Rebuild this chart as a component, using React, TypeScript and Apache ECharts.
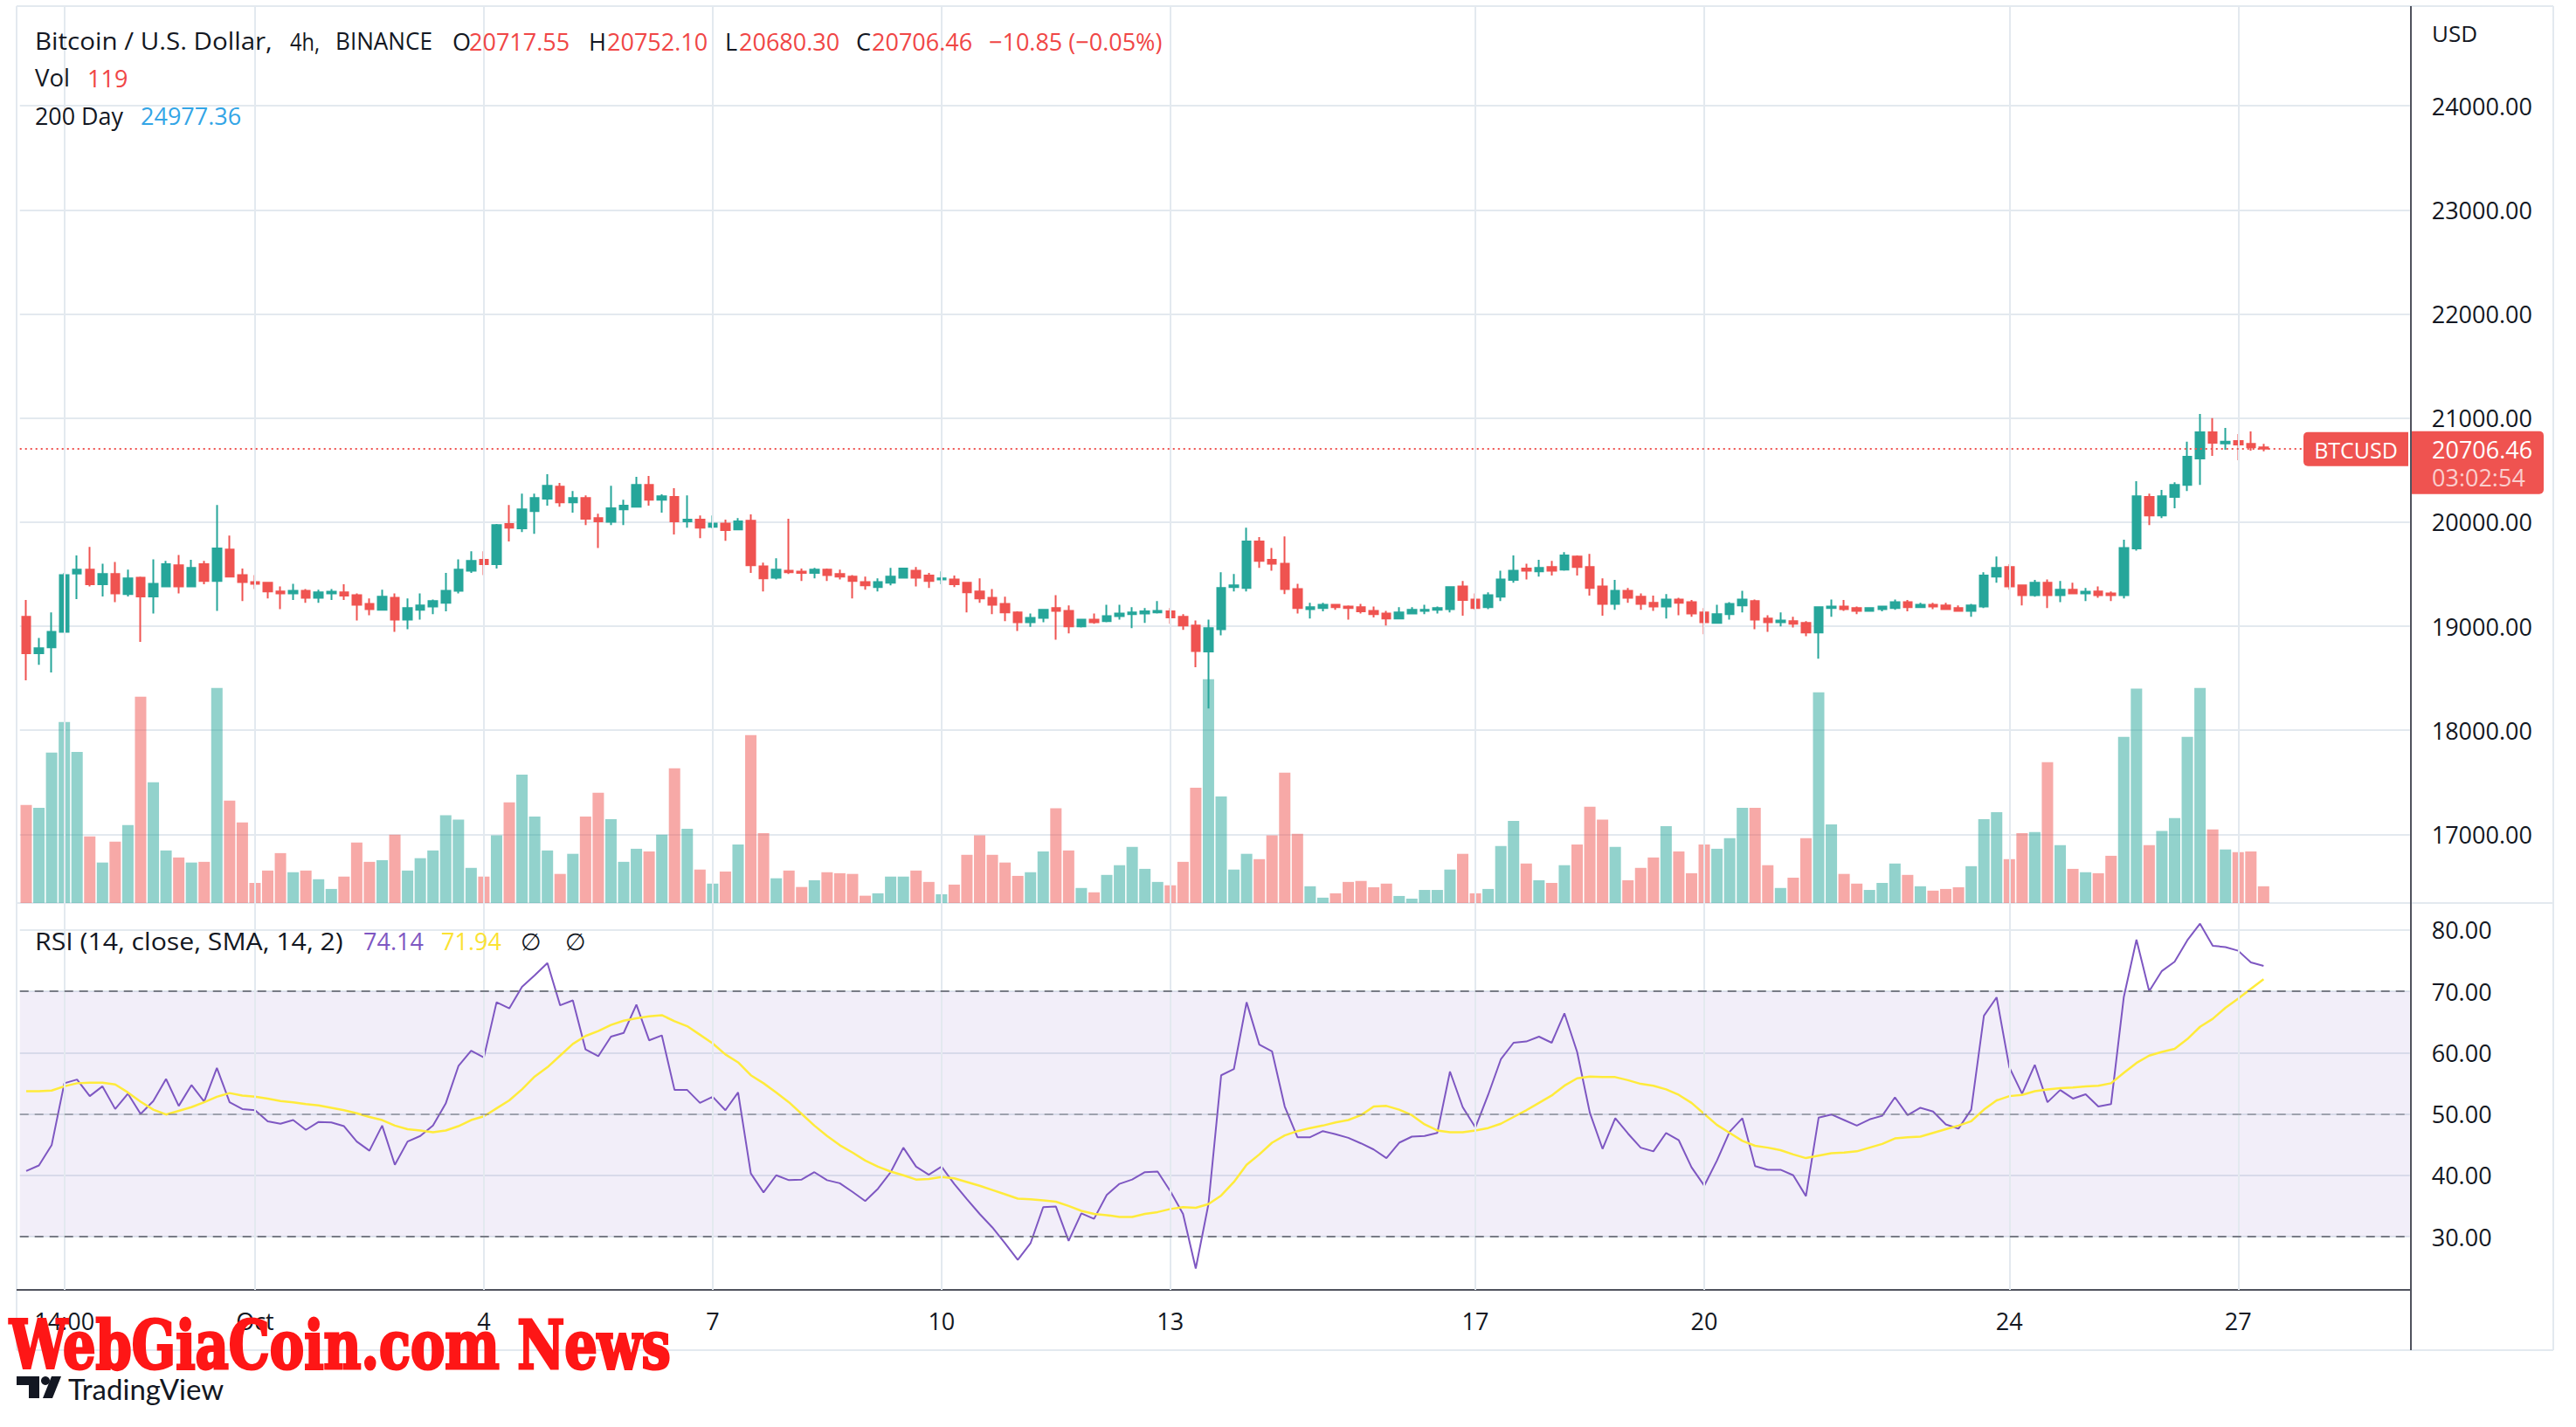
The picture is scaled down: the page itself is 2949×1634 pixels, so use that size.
import React, { useEffect, useRef } from "react";
import * as echarts from "echarts";

// ---- data (4h candles, index 0 = first fully visible candle) ----
const OPEN = [
  19090, 18740, 18797, 18945, 19505, 19543, 19402, 19502, 19309, 19466, 19286, 19383, 19585, 19383, 19595, 19434, 19736, 19492, 19424, 19418, 19334, 19315, 19341, 19273, 19315, 19325, 19299, 19215, 19158, 19273,
  19064, 19158, 19190, 19225, 19341, 19534, 19637, 19595, 19981, 19939, 20106, 20225, 20341, 20190, 20232, 20039, 20003, 20122, 20148, 20357, 20215, 20241, 20007, 20023, 19955, 19987, 19929, 20013, 19576, 19466,
  19534, 19524, 19511, 19543, 19502, 19476, 19424, 19376, 19418, 19466, 19534, 19486, 19450, 19450, 19418, 19334, 19273, 19215, 19132, 19039, 19080, 19174, 19148, 18998, 19064, 19048, 19096, 19116, 19122, 19132,
  19142, 19090, 19007, 18756, 18971, 19376, 19367, 19814, 19637, 19601, 19357, 19164, 19174, 19206, 19190, 19183, 19148, 19122, 19074, 19122, 19148, 19158, 19164, 19383, 19257, 19183, 19283, 19444, 19553, 19527,
  19569, 19543, 19669, 19569, 19383, 19215, 19341, 19283, 19225, 19190, 19257, 19232, 19132, 19032, 19116, 19199, 19241, 19074, 19039, 19048, 19032, 18939, 19174, 19190, 19174, 19148, 19164, 19174, 19232, 19183,
  19206, 19199, 19174, 19148, 19190, 19476, 19569, 19392, 19299, 19418, 19299, 19350, 19315, 19334, 19315, 19299, 19746, 20241, 20064, 20241, 20357, 20611, 20862, 20756, 20778, 20752, 20717.31,
];
const HIGH = [
  19251, 18887, 19132, 19511, 19679, 19762, 19601, 19617, 19543, 19476, 19643, 19627, 19685, 19637, 19627, 20164, 19871, 19553, 19492, 19424, 19383, 19408, 19357, 19350, 19357, 19402, 19315, 19267, 19350, 19315,
  19267, 19315, 19257, 19511, 19643, 19720, 19720, 19981, 20164, 20273, 20273, 20460, 20376, 20299, 20257, 20080, 20350, 20215, 20434, 20444, 20267, 20325, 20257, 20064, 20064, 20023, 20039, 20074, 19611, 19653,
  20032, 19553, 19560, 19553, 19543, 19492, 19476, 19460, 19560, 19560, 19569, 19511, 19527, 19486, 19424, 19460, 19357, 19283, 19142, 19122, 19164, 19299, 19199, 19064, 19122, 19206, 19206, 19183, 19174, 19241,
  19174, 19116, 19055, 19064, 19518, 19502, 19946, 19855, 19752, 19862, 19408, 19225, 19225, 19215, 19199, 19215, 19190, 19148, 19183, 19183, 19206, 19190, 19383, 19434, 19315, 19325, 19534, 19679, 19601, 19637,
  19627, 19711, 19679, 19695, 19460, 19444, 19367, 19315, 19293, 19309, 19273, 19251, 19174, 19206, 19232, 19341, 19257, 19106, 19132, 19090, 19048, 19190, 19257, 19251, 19190, 19183, 19195, 19257, 19251, 19225,
  19225, 19225, 19199, 19215, 19518, 19669, 19595, 19400, 19444, 19450, 19434, 19418, 19367, 19383, 19334, 19830, 20392, 20273, 20309, 20383, 20772, 21039, 21000, 20904, 20846, 20871, 20752.1,
];
const LOW = [
  18479, 18630, 18556, 18940, 19261, 19383, 19286, 19232, 19286, 18849, 19122, 19380, 19315, 19380, 19402, 19148, 19470, 19241, 19357, 19267, 19164, 19251, 19225, 19225, 19251, 19251, 19055, 19106, 19155, 18945,
  18971, 19064, 19116, 19142, 19315, 19511, 19492, 19553, 19814, 19904, 19887, 20158, 20148, 20090, 19971, 19752, 19971, 19971, 20142, 20158, 20090, 19881, 19946, 19846, 19939, 19820, 19923, 19511, 19334, 19450,
  19502, 19434, 19460, 19434, 19450, 19267, 19350, 19334, 19392, 19462, 19383, 19367, 19402, 19376, 19132, 19225, 19116, 19048, 18955, 18994, 19039, 18871, 18930, 18987, 19023, 19039, 19064, 18981, 19032, 19122,
  19023, 18965, 18605, 18209, 18912, 19334, 19334, 19560, 19534, 19309, 19122, 19074, 19142, 19158, 19064, 19122, 19084, 19007, 19070, 19118, 19116, 19122, 19132, 19100, 19158, 19164, 19241, 19418, 19450, 19476,
  19486, 19534, 19486, 19293, 19100, 19158, 19225, 19158, 19148, 19074, 19106, 19090, 18923, 19028, 19064, 19132, 18971, 18945, 18998, 18987, 18904, 18688, 19090, 19148, 19116, 19142, 19142, 19158, 19142, 19174,
  19164, 19158, 19142, 19090, 19174, 19418, 19350, 19199, 19283, 19174, 19232, 19309, 19241, 19273, 19241, 19267, 19727, 19971, 20039, 20132, 20299, 20357, 20637, 20695, 20595, 20686, 20680.3,
];
const CLOSE = [
  18740, 18788, 18945, 19492, 19543, 19402, 19502, 19315, 19460, 19286, 19408, 19595, 19383, 19560, 19434, 19746, 19476, 19424, 19408, 19334, 19315, 19341, 19273, 19325, 19331, 19293, 19206, 19164, 19283, 19064,
  19174, 19199, 19241, 19341, 19543, 19627, 19595, 19971, 19946, 20122, 20232, 20350, 20190, 20232, 20032, 20007, 20132, 20158, 20357, 20215, 20248, 20007, 20023, 19946, 19987, 19923, 20007, 19585, 19460, 19543,
  19518, 19511, 19543, 19492, 19476, 19434, 19392, 19424, 19476, 19553, 19466, 19434, 19460, 19402, 19325, 19267, 19206, 19132, 19039, 19080, 19158, 19148, 18998, 19064, 19039, 19096, 19122, 19132, 19142, 19148,
  19084, 19007, 18762, 18981, 19367, 19392, 19814, 19627, 19601, 19357, 19174, 19183, 19206, 19183, 19174, 19142, 19116, 19074, 19132, 19158, 19158, 19174, 19376, 19251, 19174, 19299, 19450, 19534, 19534, 19560,
  19534, 19679, 19569, 19367, 19215, 19341, 19273, 19215, 19190, 19257, 19225, 19122, 19039, 19116, 19215, 19257, 19064, 19039, 19055, 19023, 18939, 19183, 19190, 19164, 19148, 19174, 19190, 19232, 19183, 19206,
  19190, 19164, 19148, 19199, 19486, 19560, 19383, 19299, 19418, 19299, 19350, 19315, 19331, 19299, 19299, 19752, 20248, 20064, 20248, 20357, 20627, 20862, 20762, 20772, 20746, 20717.31, 20706.46,
];
const VOLUME = [
  697, 678, 1071, 1288, 1076, 474, 288, 436, 555, 1468, 859, 374, 324, 288, 293, 1530, 728, 574, 143, 231, 355, 219, 231, 169, 100, 188, 431, 293, 305, 486,
  231, 319, 374, 624, 593, 250, 188, 481, 716, 914, 616, 374, 207, 350, 616, 785, 597, 293, 386, 367, 486, 959, 528, 238, 138, 224, 417, 1195, 497, 176,
  231, 114, 162, 219, 212, 207, 52, 69, 188, 188, 231, 150, 62, 131, 343, 481, 343, 288, 193, 219, 367, 674, 374, 107, 76, 200, 269, 400, 243, 150,
  126, 293, 821, 1592, 759, 238, 350, 312, 481, 928, 493, 119, 38, 69, 150, 157, 112, 138, 50, 31, 93, 93, 238, 350, 69, 100, 405, 585, 281, 162,
  143, 269, 417, 685, 593, 400, 162, 250, 324, 547, 367, 212, 417, 386, 462, 678, 678, 269, 107, 181, 462, 1499, 559, 207, 138, 93, 143, 281, 200, 119,
  88, 100, 112, 262, 597, 647, 312, 497, 505, 1002, 412, 243, 219, 212, 336, 1183, 1526, 412, 512, 605, 1183, 1530, 524, 381, 362, 367, 119,
];
const RSI = [
  40.7, 41.6, 44.9, 55.0, 55.6, 52.9, 54.5, 50.8, 53.3, 50.0, 52.1, 55.7, 51.3, 54.7, 52.0, 57.5, 51.9, 50.8, 50.6, 48.8, 48.4, 49.0, 47.4, 48.7, 48.6, 48.0, 45.5, 44.0, 48.1, 41.7,
  45.5, 46.4, 48.1, 51.7, 57.8, 60.3, 59.2, 68.2, 67.2, 70.7, 72.6, 74.6, 67.7, 68.5, 60.5, 59.4, 62.6, 63.2, 67.8, 62.0, 62.8, 53.9, 53.9, 51.8, 52.8, 50.6, 53.5, 40.3, 37.2, 40.0,
  39.2, 39.3, 40.5, 39.2, 38.7, 37.3, 35.8, 37.8, 40.5, 44.5, 41.4, 40.1, 41.4, 38.6, 36.1, 33.7, 31.5, 28.9, 26.2, 28.9, 34.8, 34.9, 29.3, 33.8, 32.9, 36.8, 38.6, 39.3, 40.5, 40.6,
  37.4, 33.7, 24.8, 35.3, 56.3, 57.3, 68.2, 61.3, 60.2, 51.2, 46.2, 46.2, 47.2, 46.7, 46.1, 45.2, 44.2, 42.8, 45.3, 46.3, 46.4, 46.9, 56.9, 51.1, 47.8, 53.1, 58.9, 61.6, 61.8, 62.6,
  61.6, 66.4, 60.1, 50.2, 44.3, 49.3, 46.8, 44.5, 43.9, 46.9, 45.7, 41.3, 38.3, 42.4, 47.1, 49.3, 41.5, 40.9, 40.9, 40.0, 36.6, 49.4, 49.9, 49.0, 48.1, 49.1, 49.7, 52.7, 49.8, 51.0,
  50.4, 48.3, 47.6, 50.7, 66.0, 69.0, 57.6, 53.3, 58.0, 51.9, 53.9, 52.5, 53.2, 51.2, 51.6, 69.0, 78.4, 70.0, 73.3, 74.8, 78.3, 81.0, 77.4, 77.2, 76.6, 74.7, 74.14,
];
const RSI_MA = [
  53.7, 53.7, 53.8, 54.5, 55.0, 55.1, 55.1, 54.8, 53.5, 52.0, 50.7, 49.9, 50.5, 51.1, 51.9, 52.8, 53.4, 53.0, 52.8, 52.5, 52.1, 51.9, 51.6, 51.4, 51.0, 50.6, 50.1, 49.5, 49.0, 48.1,
  47.5, 47.3, 47.0, 47.3, 48.0, 49.0, 49.6, 50.9, 52.2, 54.0, 56.1, 57.6, 59.5, 61.4, 62.7, 63.5, 64.5, 65.2, 65.6, 65.9, 66.1, 65.1, 64.3, 62.9, 61.5, 59.7, 58.4, 56.3, 55.0, 53.5,
  51.9, 50.0, 48.1, 46.4, 44.9, 43.7, 42.4, 41.4, 40.6, 40.0, 39.3, 39.4, 39.7, 39.5, 38.9, 38.3, 37.6, 36.9, 36.2, 36.1, 35.9, 35.7, 35.0, 34.2, 33.7, 33.5, 33.2, 33.2, 33.7, 34.0,
  34.5, 34.8, 34.7, 35.3, 36.7, 38.9, 41.7, 43.4, 45.3, 46.5, 47.2, 47.7, 48.1, 48.6, 49.0, 49.8, 51.2, 51.3, 50.7, 49.8, 48.3, 47.3, 47.0, 47.0, 47.3, 47.7, 48.4, 49.5, 50.6, 51.8,
  53.0, 54.6, 55.8, 56.1, 56.0, 56.0, 55.5, 54.9, 54.6, 54.0, 53.1, 51.8, 50.0, 48.2, 46.9, 45.6, 44.8, 44.5, 44.1, 43.4, 42.8, 43.2, 43.6, 43.7, 43.9, 44.5, 45.1, 46.0, 46.2, 46.3,
  46.9, 47.5, 48.1, 48.8, 50.7, 52.2, 52.9, 53.1, 53.7, 54.0, 54.2, 54.3, 54.5, 54.6, 55.0, 56.7, 58.3, 59.5, 60.1, 60.6, 62.2, 64.2, 65.5, 67.3, 68.8, 70.4, 71.94,
];
const TICK_POS = [3, 18, 36, 54, 72, 90, 114, 132, 156, 174];
const TICK_LABELS = ["14:00", "Oct", "4", "7", "10", "13", "17", "20", "24", "27"];
const SLOT_COUNT = 188;
const LAST_PRICE = 20706.46;
const RSI_LEVELS = [70, 50, 30];

// ---- styling ----
const W = 2949;
const H = 1634;
const UP = "#26a69a";
const DOWN = "#ef5350";
const GRID_C = "#e3e9ef";
const AXIS_C = "#50535e";
const TEXT_C = "#131722";
const RED_T = "#f04646";
const FONT = "'Open Sans', 'Noto Sans', sans-serif";
const WM_FONT = "'DejaVu Serif Condensed', 'DejaVu Serif', serif";
const WATERMARK = "WebGiaCoin.com News";
const PLOT_L = 22.72;
const PLOT_W = 2736;

export default function App() {
  const ref = useRef<HTMLDivElement>(null);

  useEffect(() => {
    const chart = echarts.init(ref.current as HTMLDivElement, null, { renderer: "svg" });
    const cats = Array.from({ length: SLOT_COUNT }, (_, i) => String(i));
    const candleData = OPEN.map((o, i) => [o, CLOSE[i], LOW[i], HIGH[i]]);
    const volData = VOLUME.map((v, i) => ({
      value: v,
      itemStyle: { color: CLOSE[i] >= OPEN[i] ? "rgba(38,166,154,0.5)" : "rgba(239,83,80,0.5)" },
    }));

    const axisLabelStyle = { color: TEXT_C, fontSize: 27, fontFamily: FONT };
    const hiddenX = (g: number) => ({ type: "category", gridIndex: g, data: cats, show: false });

    chart.setOption({
      animation: false,
      backgroundColor: "#ffffff",
      grid: [
        { left: PLOT_L, top: 7, width: PLOT_W, height: 1470 },
        { left: PLOT_L, top: 121.1, width: PLOT_W, height: 834.3 },
        { left: PLOT_L, top: 760, width: PLOT_W, height: 274 },
        { left: PLOT_L, top: 1064.75, width: PLOT_W, height: 351.25 },
      ],
      xAxis: [
        {
          type: "category",
          gridIndex: 0,
          data: cats,
          boundaryGap: true,
          axisLine: { show: false },
          axisTick: { show: false },
          splitLine: { show: false },
          axisLabel: {
            ...axisLabelStyle,
            interval: (idx: number) => TICK_POS.indexOf(idx) >= 0,
            formatter: (v: string) => {
              const k = TICK_POS.indexOf(Number(v));
              return k >= 0 ? TICK_LABELS[k] : "";
            },
            margin: 35,
            verticalAlign: "middle",
          },
        },
        hiddenX(1),
        hiddenX(2),
        hiddenX(3),
      ],
      yAxis: [
        { type: "value", gridIndex: 0, show: false, min: 0, max: 1 },
        {
          type: "value",
          gridIndex: 1,
          position: "right",
          min: 17000,
          max: 24000,
          interval: 1000,
          axisLine: { show: false },
          axisTick: { show: false },
          splitLine: { show: true, lineStyle: { color: GRID_C, width: 2 } },
          axisLabel: { ...axisLabelStyle, margin: 25, formatter: (v: number) => v.toFixed(2) },
        },
        { type: "value", gridIndex: 2, show: false, min: 0, max: 1703, splitLine: { show: false } },
        {
          type: "value",
          gridIndex: 3,
          position: "right",
          min: 30,
          max: 80,
          interval: 10,
          axisLine: { show: false },
          axisTick: { show: false },
          splitLine: { show: true, lineStyle: { color: GRID_C, width: 2 } },
          axisLabel: { ...axisLabelStyle, margin: 25, formatter: (v: number) => v.toFixed(2) },
        },
      ],
      series: [
        {
          type: "line",
          xAxisIndex: 0,
          yAxisIndex: 0,
          data: [],
          silent: true,
          markLine: {
            silent: true,
            symbol: ["none", "none"],
            label: { show: false },
            lineStyle: { color: GRID_C, width: 2, type: "solid" },
            data: TICK_POS.map((p) => ({ xAxis: p })),
          },
        },
        {
          type: "bar",
          xAxisIndex: 2,
          yAxisIndex: 2,
          barWidth: 13,
          data: volData,
          silent: true,
        },
        {
          type: "candlestick",
          xAxisIndex: 1,
          yAxisIndex: 1,
          barWidth: 10,
          data: candleData,
          silent: true,
          itemStyle: { color: UP, color0: DOWN, borderColor: UP, borderColor0: DOWN, borderWidth: 2 },
          markLine: {
            silent: true,
            symbol: ["none", "none"],
            label: { show: false },
            lineStyle: { color: DOWN, width: 2, type: [2, 4] },
            data: [{ yAxis: LAST_PRICE }],
          },
        },
        {
          type: "line",
          xAxisIndex: 3,
          yAxisIndex: 3,
          data: [],
          silent: true,
          markArea: {
            silent: true,
            itemStyle: { color: "rgba(126,87,194,0.1)" },
            data: [[{ yAxis: 30 }, { yAxis: 70 }]],
          },
          markLine: {
            silent: true,
            symbol: ["none", "none"],
            label: { show: false },
            data: RSI_LEVELS.map((lv) => ({
              yAxis: lv,
              lineStyle: {
                color: lv === 50 ? "rgba(120,123,134,0.6)" : "#787b86",
                width: 2,
                type: [10, 7],
              },
            })),
          },
        },
        {
          type: "line",
          xAxisIndex: 3,
          yAxisIndex: 3,
          data: RSI,
          showSymbol: false,
          symbol: "none",
          clip: false,
          silent: true,
          lineStyle: { color: "#7e57c2", width: 2 },
        },
        {
          type: "line",
          xAxisIndex: 3,
          yAxisIndex: 3,
          data: RSI_MA,
          showSymbol: false,
          symbol: "none",
          clip: false,
          silent: true,
          lineStyle: { color: "#ffeb3b", width: 2.5 },
        },
      ],
    });

    // text measuring, to fit the narrower/wider reference font widths
    let ctx: CanvasRenderingContext2D | null = null;
    try {
      ctx = document.createElement("canvas").getContext("2d");
    } catch (e) {
      ctx = null;
    }
    const fitScale = (text: string, font: string, target: number) => {
      if (!ctx) return 1;
      ctx.font = font;
      const w = ctx.measureText(text).width;
      if (!(w > 0)) return 1;
      const s = target / w;
      return s > 0.7 && s < 1.4 ? s : 1;
    };
    const wmScale = fitScale(WATERMARK, `bold 77px ${WM_FONT}`, 757);

    const y0 = chart.convertToPixel({ yAxisIndex: 1 }, LAST_PRICE) as number;

    const line = (x1: number, y1: number, x2: number, y2: number, color: string, w = 2) => ({
      type: "line",
      silent: true,
      z: 1,
      shape: { x1, y1, x2, y2 },
      style: { stroke: color, lineWidth: w },
    });
    const txt = (x: number, y: number, text: string, fill: string, size = 27, extra: any = {}, z = 60) => ({
      type: "text",
      x,
      y,
      z,
      silent: true,
      style: { text, fill, fontSize: size, fontFamily: FONT, verticalAlign: "middle", align: "left", ...extra },
    });
    // text fitted to a measured width in the reference
    const fitTxt = (x: number, y: number, text: string, fill: string, target: number) => ({
      ...txt(x, y, text, fill),
      scaleX: fitScale(text, `27px ${FONT}`, target),
    });

    chart.setOption({
      graphic: [
        line(19, 7, 2923, 7, GRID_C),
        line(19, 7, 19, 1546, GRID_C),
        line(2923, 7, 2923, 1546, GRID_C),
        line(19, 1546, 2923, 1546, GRID_C),
        line(19, 1034, 2923, 1034, GRID_C),
        line(2760, 7, 2760, 1546, AXIS_C),
        line(19, 1477, 2760, 1477, AXIS_C),
        // header legend
        fitTxt(40, 47, "Bitcoin / U.S. Dollar,", TEXT_C, 272),
        fitTxt(332, 47, "4h,", TEXT_C, 34),
        fitTxt(384, 47, "BINANCE", TEXT_C, 111),
        txt(518, 47, "O", TEXT_C),
        txt(537, 47, "20717.55", RED_T),
        txt(674, 47, "H", TEXT_C),
        txt(695, 47, "20752.10", RED_T),
        txt(830, 47, "L", TEXT_C),
        txt(846, 47, "20680.30", RED_T),
        txt(980, 47, "C", TEXT_C),
        txt(998, 47, "20706.46", RED_T),
        txt(1132, 47, "−10.85 (−0.05%)", RED_T),
        fitTxt(40, 89, "Vol", TEXT_C, 40),
        txt(100, 89, "119", RED_T),
        fitTxt(40, 132, "200 Day", TEXT_C, 101),
        txt(161, 132, "24977.36", "#33a5e6"),
        // RSI legend
        fitTxt(40, 1077, "RSI (14, close, SMA, 14, 2)", TEXT_C, 353),
        txt(416, 1077, "74.14", "#7e57c2"),
        txt(505, 1077, "71.94", "#fbe232"),
        txt(596, 1077, "∅", TEXT_C),
        txt(647, 1077, "∅", TEXT_C),
        // currency
        txt(2784, 38, "USD", TEXT_C, 26),
        // last price labels
        {
          type: "rect",
          z: 70,
          silent: true,
          shape: { x: 2637, y: y0 - 19, width: 120, height: 39, r: [5, 0, 0, 5] },
          style: { fill: DOWN },
        },
        txt(2697, y0 + 1, "BTCUSD", "#ffffff", 25, { align: "center" }, 80),
        {
          type: "rect",
          z: 70,
          silent: true,
          shape: { x: 2761, y: y0 - 20, width: 151, height: 72, r: [0, 5, 5, 0] },
          style: { fill: DOWN },
        },
        txt(2784, y0 + 1, "20706.46", "#ffffff", 27, {}, 80),
        txt(2784, y0 + 33, "03:02:54", "rgba(255,255,255,0.72)", 27, {}, 80),
        // watermark
        {
          type: "text",
          x: 11,
          y: 1540,
          scaleX: wmScale,
          z: 100,
          silent: true,
          style: {
            text: WATERMARK,
            fill: "#fe1616",
            stroke: "#fe1616",
            lineWidth: 3,
            fontSize: 77,
            fontFamily: WM_FONT,
            fontWeight: "bold",
            verticalAlign: "middle",
            align: "left",
          },
        },
        // TradingView logo
        {
          type: "polygon",
          z: 100,
          silent: true,
          shape: { points: [[19, 1576], [45, 1576], [45, 1601], [33, 1601], [33, 1586], [19, 1586]] },
          style: { fill: TEXT_C },
        },
        { type: "circle", z: 100, silent: true, shape: { cx: 52, cy: 1581, r: 5 }, style: { fill: TEXT_C } },
        {
          type: "polygon",
          z: 100,
          silent: true,
          shape: { points: [[59, 1576], [70, 1576], [60, 1601], [49, 1601]] },
          style: { fill: TEXT_C },
        },
        {
          type: "text",
          x: 78,
          y: 1590,
          z: 100,
          silent: true,
          style: { text: "TradingView", fill: TEXT_C, fontSize: 33, fontFamily: "Lato, 'Open Sans', sans-serif", verticalAlign: "middle" },
        },
      ],
    });

    return () => chart.dispose();
  }, []);

  return (
    <div
      ref={ref}
      style={{ position: "fixed", left: 0, top: 0, width: W, height: H, background: "#ffffff" }}
    />
  );
}
